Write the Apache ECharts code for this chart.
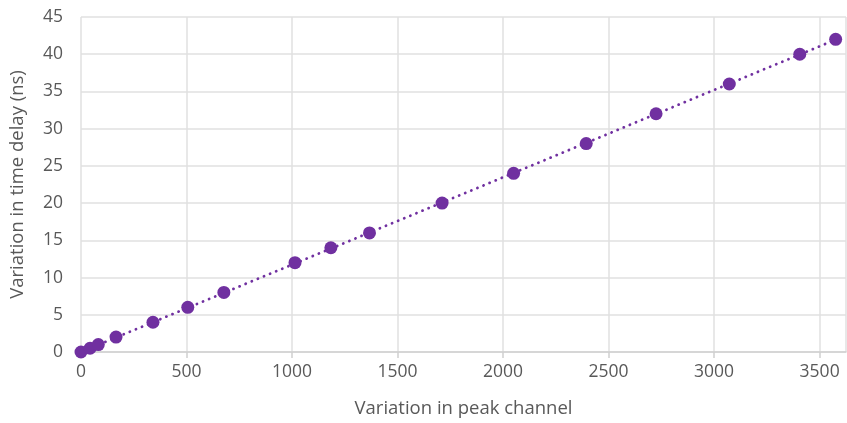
<!DOCTYPE html>
<html>
<head>
<meta charset="utf-8">
<script src="https://cdn.jsdelivr.net/npm/echarts@6/dist/echarts.min.js"></script>
<style>html,body{margin:0;padding:0;background:#fff}#c{width:847px;height:423px}</style>
</head>
<body>
<div id="c"></div>
<script>
const peakChannel = [0, 43, 82, 166, 341, 506, 677, 1014, 1184, 1367, 1711, 2050, 2394, 2725, 3072, 3406, 3576];
const timeDelay = [0, 0.5, 1, 2, 4, 6, 8, 12, 14, 16, 20, 24, 28, 32, 36, 40, 42];
const trendX = [0, 3580];
const trendY = [0, 42];
const xTitle = 'Variation in peak channel';
const yTitle = 'Variation in time delay (ns)';

const color = '#7030A0';
const font = 'Open Sans';
const chart = echarts.init(document.getElementById('c'));
chart.setOption({
  animation: false,
  grid: {left: 76, top: 17, right: 1, bottom: 69, containLabel: false},
  xAxis: {
    type: 'value', min: 0, max: 3625, interval: 500,
    name: xTitle, nameLocation: 'middle', nameGap: 47,
    nameTextStyle: {color: '#595959', fontFamily: font, fontSize: 18.5},
    axisLine: {show: true, lineStyle: {color: '#d0d0d0', width: 1.5}},
    axisTick: {show: true, length: 6, lineStyle: {color: '#d0d0d0', width: 1.5}},
    axisLabel: {color: '#595959', fontFamily: font, fontSize: 17.5, margin: 11, showMaxLabel: false,
      formatter: v => String(v)},
    splitLine: {show: true, lineStyle: {color: '#e0e0e0', width: 1.5}}
  },
  yAxis: {
    type: 'value', min: 0, max: 45, interval: 5,
    name: yTitle, nameLocation: 'middle', nameGap: 54, nameRotate: 90,
    nameTextStyle: {color: '#595959', fontFamily: font, fontSize: 18.5},
    axisLine: {show: false},
    axisTick: {show: false},
    axisLabel: {color: '#595959', fontFamily: font, fontSize: 17.5, margin: 18},
    splitLine: {show: true, lineStyle: {color: '#e0e0e0', width: 1.5}}
  },
  series: [
    {
      type: 'line',
      data: trendX.map((x, i) => [x, trendY[i]]),
      showSymbol: false, symbol: 'none', silent: true, z: 1,
      lineStyle: {color: color, width: 2.8, type: [0.1, 6.5], cap: 'round'}
    },
    {
      type: 'scatter',
      data: peakChannel.map((x, i) => [x, timeDelay[i]]),
      symbol: 'circle', symbolSize: 13, z: 2,
      itemStyle: {color: color, opacity: 1}
    }
  ]
});
</script>
</body>
</html>
